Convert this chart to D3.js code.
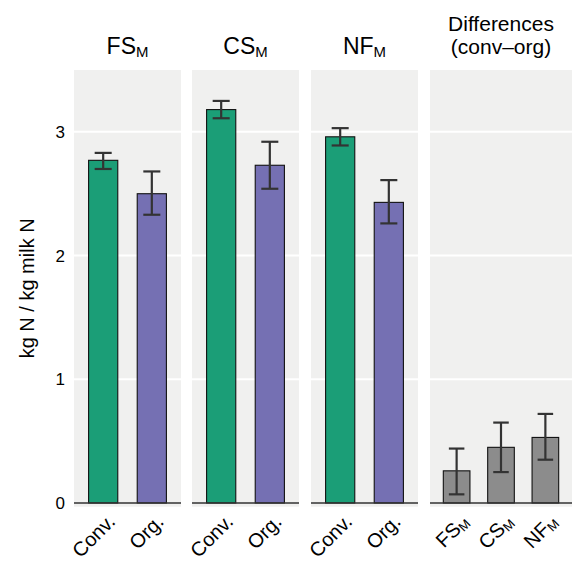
<!DOCTYPE html>
<html>
<head>
<meta charset="utf-8">
<script src="https://cdn.jsdelivr.net/npm/d3@7"></script>
<style>
  body { margin: 0; background: #fff; }
  text { font-family: "Liberation Sans", Arial, sans-serif; fill: #000; }
</style>
</head>
<body>
<div id="chart"></div>
<script>
// data
var systems = ["FS", "CS", "NF"];          // each gets subscript "M"
var treatments = ["Conv.", "Org."];
var convMean = [2.77, 3.18, 2.96];
var convLo   = [2.70, 3.11, 2.89];
var convHi   = [2.83, 3.25, 3.03];
var orgMean  = [2.50, 2.73, 2.43];
var orgLo    = [2.33, 2.54, 2.26];
var orgHi    = [2.68, 2.92, 2.61];
var diffMean = [0.26, 0.45, 0.53];
var diffLo   = [0.07, 0.25, 0.35];
var diffHi   = [0.44, 0.65, 0.72];
var yTicks   = [0, 1, 2, 3];

var width = 575, height = 561;
var panelTop = 70, zeroY = 503;
var colors = { "Conv.": "#1b9e77", "Org.": "#7570b3" };

var svg = d3.select("#chart").append("svg")
    .attr("width", width)
    .attr("height", height);

var y = d3.scaleLinear().domain([0, 3.5]).range([zeroY, panelTop]);
var panelBottom = y(-0.03);

// panel x extents
var panels = [
    { x0: 74, x1: 181 },
    { x0: 192, x1: 299 },
    { x0: 311, x1: 418 },
    { x0: 430, x1: 572 }
];

function subLabel(sel, main, sub)
{
    sel.append("tspan").text(main);
    sel.append("tspan").attr("font-size", "0.65em").attr("dy", "0.18em").text(sub);
}

function drawPanel(p, cats, means, los, his, fill, stripLines, labelSub)
{
    var g = svg.append("g");
    var x = d3.scalePoint().domain(cats).range([p.x0, p.x1]).padding(0.6);
    var step = x.step();

    g.append("rect")
        .attr("x", p.x0).attr("y", panelTop)
        .attr("width", p.x1 - p.x0).attr("height", panelBottom - panelTop)
        .attr("fill", "#f0f0ef");

    g.selectAll(".grid")
        .data(yTicks.slice(1))
        .enter().append("line")
        .attr("x1", p.x0).attr("x2", p.x1)
        .attr("y1", function(d) { return y(d); })
        .attr("y2", function(d) { return y(d); })
        .attr("stroke", "#fff").attr("stroke-width", 2);

    g.selectAll(".bar")
        .data(cats)
        .enter().append("rect")
        .attr("x", function(d) { return x(d) - step * 0.3; })
        .attr("width", step * 0.6)
        .attr("y", function(d, i) { return y(means[i]); })
        .attr("height", function(d, i) { return y(0) - y(means[i]); })
        .attr("fill", function(d, i) { return fill(d, i); })
        .attr("stroke", "#111").attr("stroke-width", 1.1);

    g.append("line")
        .attr("x1", p.x0).attr("x2", p.x1)
        .attr("y1", y(0)).attr("y2", y(0))
        .attr("stroke", "#333").attr("stroke-width", 1.6);

    // error bars
    var eb = g.selectAll(".err").data(cats).enter().append("g").attr("stroke", "#333").attr("stroke-width", 2.2);
    eb.append("line")
        .attr("x1", function(d) { return x(d); }).attr("x2", function(d) { return x(d); })
        .attr("y1", function(d, i) { return y(his[i]); })
        .attr("y2", function(d, i) { return y(los[i]); });
    eb.append("line")
        .attr("x1", function(d) { return x(d) - step * 0.175; }).attr("x2", function(d) { return x(d) + step * 0.175; })
        .attr("y1", function(d, i) { return y(his[i]); })
        .attr("y2", function(d, i) { return y(his[i]); });
    eb.append("line")
        .attr("x1", function(d) { return x(d) - step * 0.175; }).attr("x2", function(d) { return x(d) + step * 0.175; })
        .attr("y1", function(d, i) { return y(los[i]); })
        .attr("y2", function(d, i) { return y(los[i]); });

    // x labels, rotated 45
    var lab = g.selectAll(".xl").data(cats).enter().append("text")
        .attr("transform", function(d) { return "translate(" + (x(d) + 3) + "," + (panelBottom + 6) + ") rotate(-45)"; })
        .attr("text-anchor", "end")
        .attr("dy", "0.72em")
        .attr("font-size", 20);
    lab.each(function(d) {
        if(labelSub) subLabel(d3.select(this), d, "M");
        else d3.select(this).text(d);
    });

    // strip title
    var cx = (p.x0 + p.x1) / 2;
    if(stripLines.length == 1)
    {
        var t = svg.append("text").attr("x", cx).attr("y", 54).attr("text-anchor", "middle").attr("font-size", 23);
        subLabel(t, stripLines[0], "M");
    }
    else
    {
        stripLines.forEach(function(s, i) {
            svg.append("text").attr("x", cx).attr("y", 31 + i * 23)
                .attr("text-anchor", "middle").attr("font-size", 21).text(s);
        });
    }
}

for(var k = 0; k < 3; k++)
{
    drawPanel(panels[k], treatments,
        [convMean[k], orgMean[k]], [convLo[k], orgLo[k]], [convHi[k], orgHi[k]],
        function(d) { return colors[d]; }, [systems[k]], false);
}
drawPanel(panels[3], systems, diffMean, diffLo, diffHi,
    function() { return "#8c8c8c"; }, ["Differences", "(conv\u2013org)"], true);

// y axis
svg.selectAll(".ytick")
    .data(yTicks)
    .enter().append("text")
    .attr("x", 65).attr("y", function(d) { return y(d); })
    .attr("dy", "0.36em")
    .attr("text-anchor", "end")
    .attr("font-size", 17)
    .text(function(d) { return d; });

svg.append("text")
    .attr("transform", "translate(34," + ((panelTop + panelBottom) / 2) + ") rotate(-90)")
    .attr("text-anchor", "middle")
    .attr("font-size", 20)
    .text("kg N / kg milk N");
</script>
</body>
</html>
